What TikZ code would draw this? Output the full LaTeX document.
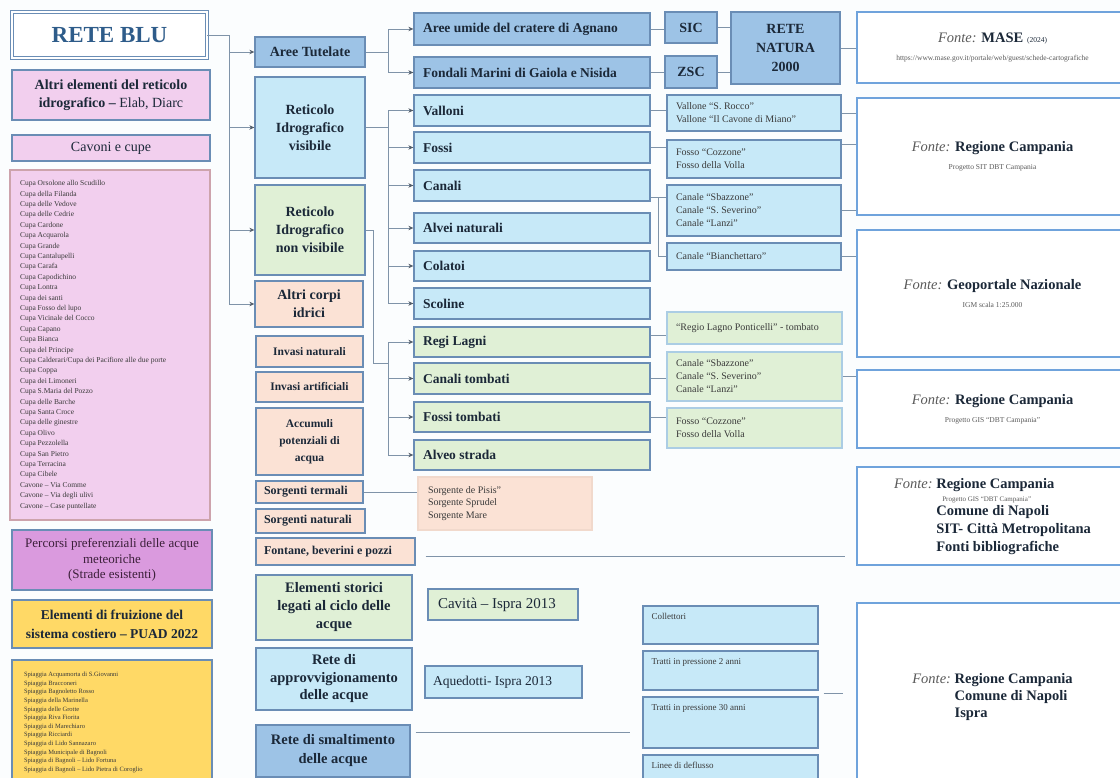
\documentclass[tikz,border=0pt]{standalone}
\usepackage{fontspec}
\setmainfont{Liberation Serif}
\usetikzlibrary{calc, arrows.meta}
\definecolor{sfondo}{HTML}{FBFDFE}
\definecolor{bordo}{HTML}{6A8DB5}
\definecolor{bordofonte}{HTML}{6FA3DC}
\definecolor{bluscuro}{HTML}{9DC3E6}
\definecolor{azzurro}{HTML}{C7E9F8}
\definecolor{verdino}{HTML}{E0F0D6}
\definecolor{pesca}{HTML}{FBE2D5}
\definecolor{rosa}{HTML}{F2CFEE}
\definecolor{orchidea}{HTML}{DA9ADE}
\definecolor{giallo}{HTML}{FFD966}
\definecolor{inchiostro}{HTML}{1B2838}
\definecolor{blunotte}{HTML}{2E5C8A}
\definecolor{grigio}{HTML}{7F93A8}
\definecolor{grigiotesto}{HTML}{5A5A5A}
\definecolor{testolista}{HTML}{3A3A3A}
\newcommand{\fsz}[2]{\fontsize{#1}{#2}\selectfont}
\newcommand{\cella}[8][6]{%
    \pgfmathsetmacro{\largh}{#6-#4-2*#1}%
    \pgfmathsetmacro{\altez}{#7-#5}%
    \node[#2, inner xsep=#1pt, text width=\largh pt, minimum height=\altez pt] (#3) at ({(#4+#6)/2},{(#5+#7)/2}) {#8};%
}
\tikzset{
    cella/.style={draw=bordo, line width=1.3pt, inner ysep=1pt, text=inchiostro, align=flush center},
    radice/.style={cella, draw=bordo, double=white, double distance=1.6pt, line width=0.9pt, fill=white, text=blunotte, font=\fsz{23}{26}\bfseries},
    rosa/.style={cella, fill=rosa, font=\fsz{14}{18}},
    tutela/.style={cella, fill=bluscuro, font=\fsz{14}{17}\bfseries},
    visibile/.style={cella, fill=azzurro, font=\fsz{14}{18}\bfseries},
    nascosto/.style={cella, fill=verdino, font=\fsz{14}{18}\bfseries},
    corpo/.style={cella, fill=pesca, font=\fsz{11.5}{17}\bfseries},
    voce/.style={align=flush left, font=\fsz{13.5}{16}\bfseries},
    elenco/.style={cella, align=flush left, text=testolista, font=\fsz{10}{13}},
    tubo/.style={cella, fill=azzurro},
    etichetta/.style={anchor=north west, xshift=9pt, yshift=-8pt, inner sep=0pt, text=testolista, font=\fsz{9}{11}},
    fonte/.style={draw=bordofonte, line width=2.2pt, fill=white, align=flush center, text=inchiostro, font=\fsz{14.5}{18}},
    linea/.style={draw=grigio, line width=0.9pt},
    freccia/.style={linea, -{Stealth[length=5pt,width=4.5pt,color=inchiostro!75]}},
}
\begin{document}
\begin{tikzpicture}[x=1pt,y=-1pt]
    \useasboundingbox (0,0) rectangle (1120,778);
    \fill[sfondo] (0,0) rectangle (1120,778);

    % colonna di sinistra
    \cella{radice}{reteblu}{12}{12}{207}{58}{RETE BLU}
    \cella{rosa}{altri}{12}{70}{210}{120}{\textbf{Altri elementi del reticolo}\\\textbf{idrografico –} Elab, Diarc}
    \cella{rosa}{cavoni}{12}{135}{210}{161}{Cavoni e cupe}
    \cella[10]{elenco, fill=rosa, draw=red!30!rosa!70!black!60, font=\fsz{7.5}{10.4}}{cupe}{10}{170}{210}{520}{Cupa Orsolone allo Scudillo\\Cupa della Filanda\\Cupa delle Vedove\\Cupa delle Cedrie\\Cupa Cardone\\Cupa Acquarola\\Cupa Grande\\Cupa Cantalupelli\\Cupa Carafa\\Cupa Capodichino\\Cupa Lontra\\Cupa dei santi\\Cupa Fosso del lupo\\Cupa Vicinale del Cocco\\Cupa Capano\\Cupa Bianca\\Cupa del Principe\\Cupa Calderari/Cupa dei Pacifiore alle due porte\\Cupa Coppa\\Cupa dei Limoneri\\Cupa S.Maria del Pozzo\\Cupa delle Barche\\Cupa Santa Croce\\Cupa delle ginestre\\Cupa Olivo\\Cupa Pezzolella\\Cupa San Pietro\\Cupa Terracina\\Cupa Cibele\\Cavone – Via Comme\\Cavone – Via degli ulivi\\Cavone – Case puntellate}
    \cella{cella, fill=orchidea, text=inchiostro!80!purple, font=\fsz{13}{15.5}}{percorsi}{12}{530}{212}{590}{Percorsi preferenziali delle acque\\meteoriche\\(Strade esistenti)}
    \cella{cella, fill=giallo, font=\fsz{13.5}{19}\bfseries}{fruizione}{12}{600}{212}{648}{Elementi di fruizione del\\sistema costiero – PUAD 2022}
    \cella[12]{elenco, fill=giallo, font=\fsz{6.5}{8.6}}{spiagge}{12}{660}{212}{785}{Spiaggia Acquamorta di S.Giovanni\\Spiaggia Bracconeri\\Spiaggia Bagnoletto Rosso\\Spiaggia della Marinella\\Spiaggia delle Grotte\\Spiaggia Riva Fiorita\\Spiaggia di Marechiaro\\Spiaggia Ricciardi\\Spiaggia di Lido Sannazaro\\Spiaggia Municipale di Bagnoli\\Spiaggia di Bagnoli – Lido Fortuna\\Spiaggia di Bagnoli – Lido Pietra di Coroglio}

    % seconda colonna
    \cella{tutela}{aree}{255}{37}{365}{67}{Aree Tutelate}
    \cella{visibile}{retvis}{255}{77}{365}{178}{Reticolo\\Idrografico\\visibile}
    \cella{nascosto}{retnon}{255}{185}{365}{275}{Reticolo\\Idrografico\\non visibile}
    \cella{corpo, font=\fsz{14}{18}\bfseries}{corpi}{255}{281}{363}{327}{Altri corpi\\idrici}
    \cella{corpo}{invnat}{256}{336}{363}{367}{Invasi naturali}
    \cella{corpo}{invart}{256}{372}{363}{402}{Invasi artificiali}
    \cella{corpo}{accumuli}{256}{408}{363}{475}{Accumuli\\potenziali di\\acqua}
    \cella[8]{corpo, align=flush left, font=\fsz{12}{14}\bfseries}{termali}{256}{481}{363}{503}{Sorgenti termali}
    \cella[8]{corpo, align=flush left, font=\fsz{12}{14}\bfseries}{naturali}{256}{509}{365}{533}{Sorgenti naturali}
    \cella[8]{corpo, align=flush left, font=\fsz{12}{14}\bfseries}{fontane}{256}{538}{415}{565}{Fontane, beverini e pozzi}
    \cella{nascosto, font=\fsz{14.5}{18}\bfseries}{storici}{256}{575}{412}{640}{Elementi storici\\legati al ciclo delle\\acque}
    \cella{visibile, font=\fsz{14.5}{17.5}\bfseries}{approv}{256}{648}{412}{710}{Rete di\\approvvigionamento\\delle acque}
    \cella{tutela, font=\fsz{14.5}{19}\bfseries}{smalt}{256}{725}{410}{777}{Rete di smaltimento\\delle acque}

    % terza colonna
    \cella[9]{tutela, voce}{agnano}{414}{13}{650}{45}{Aree umide del cratere di Agnano}
    \cella[9]{tutela, voce}{gaiola}{414}{57}{650}{88}{Fondali Marini di Gaiola e Nisida}
    \cella[9]{visibile, voce}{valloni}{414}{95}{650}{126}{Valloni}
    \cella[9]{visibile, voce}{fossi}{414}{132}{650}{163}{Fossi}
    \cella[9]{visibile, voce}{canali}{414}{170}{650}{201}{Canali}
    \cella[9]{visibile, voce}{alvei}{414}{213}{650}{243}{Alvei naturali}
    \cella[9]{visibile, voce}{colatoi}{414}{251}{650}{281}{Colatoi}
    \cella[9]{visibile, voce}{scoline}{414}{288}{650}{319}{Scoline}
    \cella[9]{nascosto, voce}{regi}{414}{327}{650}{357}{Regi Lagni}
    \cella[9]{nascosto, voce}{cantomb}{414}{363}{650}{394}{Canali tombati}
    \cella[9]{nascosto, voce}{fostomb}{414}{402}{650}{432}{Fossi tombati}
    \cella[9]{nascosto, voce}{alveo}{414}{440}{650}{470}{Alveo strada}

    % Rete Natura 2000
    \cella{tutela}{sic}{665}{12}{717}{43}{SIC}
    \cella{tutela}{zsc}{665}{56}{717}{88}{ZSC}
    \cella{tutela, font=\fsz{14}{19}\bfseries}{natura}{731}{12}{840}{84}{RETE\\NATURA\\2000}

    % elenchi
    \cella[9]{elenco, fill=azzurro}{vallonelist}{667}{95}{841}{131}{Vallone “S. Rocco”\\Vallone “Il Cavone di Miano”}
    \cella[9]{elenco, fill=azzurro}{fossolist}{667}{140}{841}{178}{Fosso “Cozzone”\\Fosso della Volla}
    \cella[9]{elenco, fill=azzurro}{canalelist}{667}{185}{841}{236}{Canale “Sbazzone”\\Canale “S. Severino”\\Canale “Lanzi”}
    \cella[9]{elenco, fill=azzurro}{bianco}{667}{243}{841}{270}{Canale “Bianchettaro”}
    \cella[9]{elenco, fill=verdino, draw=azzurro!70!bordo}{regiolist}{667}{312}{842}{344}{“Regio Lagno Ponticelli” - tombato}
    \cella[9]{elenco, fill=verdino, draw=azzurro!70!bordo}{canalverde}{667}{352}{842}{401}{Canale “Sbazzone”\\Canale “S. Severino”\\Canale “Lanzi”}
    \cella[9]{elenco, fill=verdino, draw=azzurro!70!bordo}{fossoverde}{667}{408}{842}{448}{Fosso “Cozzone”\\Fosso della Volla}
    \cella[10]{elenco, fill=pesca, draw=pesca!80!black!20!pesca, font=\fsz{10}{12.5}}{sorglist}{418}{477}{592}{530}{Sorgente de Pisis”\\Sorgente Sprudel\\Sorgente Mare}
    \cella[10]{cella, fill=verdino, align=flush left, font=\fsz{15}{17}}{cavita}{428}{589}{578}{620}{Cavità – Ispra 2013}
    \cella[8]{cella, fill=azzurro, align=flush left, font=\fsz{13.5}{16}}{aquedotti}{425}{666}{582}{698}{Aquedotti- Ispra 2013}
    \cella{tubo, label={[etichetta]north west:Collettori}}{collettori}{643}{606}{818}{644}{}
    \cella{tubo, label={[etichetta]north west:Tratti in pressione 2 anni}}{tratti2}{643}{651}{818}{690}{}
    \cella{tubo, label={[etichetta]north west:Tratti in pressione 30 anni}}{tratti30}{643}{697}{818}{748}{}
    \cella{tubo, label={[etichetta]north west:Linee di deflusso}}{linee}{643}{755}{818}{795}{}

    % fonti
    \cella{fonte}{mase}{857}{12}{1128}{83}{\textit{\color{grigiotesto}Fonte:} \textbf{MASE} {\fsz{7.5}{8}(2024)}\\{\fsz{7.5}{9}\color{grigiotesto}https://www.mase.gov.it/portale/web/guest/schede-cartografiche}}
    \cella{fonte}{regcamp}{857}{98}{1128}{215}{\textit{\color{grigiotesto}Fonte:} \textbf{Regione Campania}\\{\fsz{7.5}{9}\color{grigiotesto}Progetto SIT DBT Campania}}
    \cella{fonte}{geoport}{857}{230}{1128}{357}{\textit{\color{grigiotesto}Fonte:} \textbf{Geoportale Nazionale}\\{\fsz{7.5}{9}\color{grigiotesto}IGM scala 1:25.000}}
    \cella{fonte}{regcamp2}{857}{370}{1128}{448}{\textit{\color{grigiotesto}Fonte:} \textbf{Regione Campania}\\{\fsz{7.5}{9}\color{grigiotesto}Progetto GIS “DBT Campania”}}
    \cella{fonte}{fontemulti}{857}{467}{1128}{565}{\begin{tabular}{@{}r@{\ }l@{}}\textit{\color{grigiotesto}Fonte:} & \textbf{Regione Campania}\\[-5pt]
        & {\fsz{7}{8}\color{grigiotesto}\hspace{6pt}Progetto GIS “DBT Campania”}\\[-4pt]
        & \textbf{Comune di Napoli}\\
        & \textbf{SIT- Città Metropolitana}\\
        & \textbf{Fonti bibliografiche}\end{tabular}}
    \cella{fonte}{fonteimp}{857}{603}{1128}{790}{\begin{tabular}{@{}r@{\ }l@{}}\textit{\color{grigiotesto}Fonte:} & \textbf{Regione Campania}\\[-1pt]
        & \textbf{Comune di Napoli}\\[-1pt]
        & \textbf{Ispra}\end{tabular}}

    % frecce
    \draw[freccia] (reteblu.east) -- ++(22,0) |- (aree.west);
    \draw[freccia] (reteblu.east) -- ++(22,0) |- (retvis.west);
    \draw[freccia] (reteblu.east) -- ++(22,0) |- (retnon.west);
    \draw[freccia] (reteblu.east) -- ++(22,0) |- (corpi.west);

    \draw[freccia] (aree.east) -- ++(23,0) |- (agnano.west);
    \draw[freccia] (aree.east) -- ++(23,0) |- (gaiola.west);

    \draw[freccia] (retvis.east) -- ++(23,0) |- (valloni.west);
    \draw[freccia] (retvis.east) -- ++(23,0) |- (fossi.west);
    \draw[freccia] (retvis.east) -- ++(23,0) |- (canali.west);
    \draw[freccia] (retvis.east) -- ++(23,0) |- (alvei.west);
    \draw[freccia] (retvis.east) -- ++(23,0) |- (colatoi.west);
    \draw[freccia] (retvis.east) -- ++(23,0) |- (scoline.west);

    \coordinate (nodotomb) at (388,363);
    \draw[linea] (retnon.east) -- ++(8,0) |- (nodotomb);
    \draw[freccia] (nodotomb) |- (regi.west);
    \draw[freccia] (nodotomb) |- (cantomb.west);
    \draw[freccia] (nodotomb) |- (fostomb.west);
    \draw[freccia] (nodotomb) |- (alveo.west);

    % collegamenti
    \draw[linea] (agnano.east) -- (agnano.east -| sic.west);
    \draw[linea] (gaiola.east) -- (gaiola.east -| zsc.west);
    \draw[linea] (sic.east) -- (sic.east -| natura.west);
    \draw[linea] (zsc.east) -- (zsc.east -| natura.west);
    \draw[linea] (natura.east) -- (natura.east -| mase.west);

    \draw[linea] (valloni.east) -- (valloni.east -| vallonelist.west);
    \draw[linea] (fossi.east) -- (fossi.east -| fossolist.west);
    \coordinate (canaliuscita) at ($(canali.south east)+(0,-4)$);
    \draw[linea] (canaliuscita) -- (canaliuscita -| canalelist.west);
    \draw[linea] (canaliuscita) ++(8,0) |- (bianco.west);
    \coordinate (regiuscita) at ($(regi.north east)!0.3!(regi.south east)$);
    \draw[linea] (regiuscita) -- (regiuscita -| regiolist.west);
    \draw[linea] (cantomb.east) -- (cantomb.east -| canalverde.west);
    \draw[linea] (fostomb.east) -- (fostomb.east -| fossoverde.west);

    \draw[linea] (vallonelist.east) -- (vallonelist.east -| regcamp.west);
    \coordinate (fossouscita) at ($(fossolist.north east)+(0,5)$);
    \draw[linea] (fossouscita) -- (fossouscita -| regcamp.west);
    \draw[linea] (canalelist.east) -- (canalelist.east -| regcamp.west);
    \draw[linea] (bianco.east) -- (bianco.east -| geoport.west);
    \draw[linea] (canalverde.east) -- (canalverde.east -| regcamp2.west);

    \draw[linea] (termali.east) -- (termali.east -| sorglist.west);
    \coordinate (fontaneinizio) at ($(fontane.east)+(10,5)$);
    \coordinate (fontanefine) at (845,557);
    \draw[linea] (fontaneinizio) -- (fontaneinizio -| fontanefine);
    \coordinate (smaltinizio) at ($(smalt.north east)+(5,8)$);
    \coordinate (smaltfine) at (630,733);
    \draw[linea] (smaltinizio) -- (smaltinizio -| smaltfine);
    \coordinate (trattiuscita) at ($(tratti2.south east)!0.5!(tratti30.north east)+(5,0)$);
    \draw[linea] (trattiuscita) -- ++(19,0);
\end{tikzpicture}
\end{document}
